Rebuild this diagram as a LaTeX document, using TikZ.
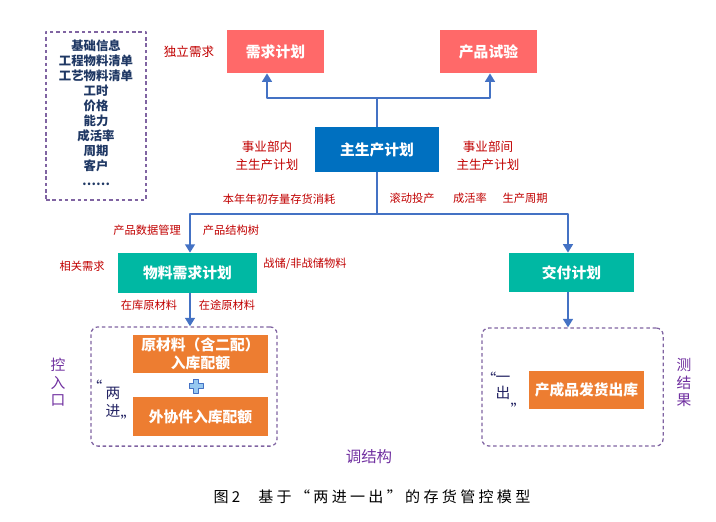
\documentclass[tikz,border=0pt]{standalone}
\usepackage{fontspec}
\setmainfont{Noto Sans CJK SC}
\usetikzlibrary{arrows.meta}
\definecolor{salmon}{RGB}{255,105,105}
\definecolor{mpsblue}{RGB}{0,112,192}
\definecolor{teal}{RGB}{0,184,163}
\definecolor{orangebox}{RGB}{237,125,49}
\definecolor{darkred}{RGB}{192,0,0}
\definecolor{navy}{RGB}{31,56,100}
\definecolor{ink}{RGB}{36,36,100}
\definecolor{zonetext}{RGB}{112,48,160}
\definecolor{zoneline}{RGB}{128,100,162}
\definecolor{arrowblue}{RGB}{68,114,196}
\definecolor{plusfill}{RGB}{150,200,240}
\begin{document}
\begin{tikzpicture}[x=0.025cm,y=-0.025cm,line join=round,>={Triangle[width=7pt,length=6pt]},
 box/.style={fill=#1,text=white,font=\fontsize{10.5}{12.8}\selectfont\bfseries,align=center,inner sep=0pt},
 lbl/.style={text=darkred,font=\fontsize{8}{11}\selectfont,align=center,inner sep=1pt},
 biglbl/.style={text=darkred,font=\fontsize{8.9}{12.8}\selectfont,align=center,inner sep=1pt},
 zone/.style={draw=zoneline,line width=0.9pt,dash pattern=on 2.5pt off 2pt,rounded corners=5pt},
 side/.style={text=zonetext,font=\fontsize{10.5}{12.4}\selectfont,align=center,inner sep=0pt},
 quote/.style={text=ink,font=\fontsize{10.5}{12.5}\selectfont,inner sep=0pt},
 link/.style={draw=arrowblue,line width=1.3pt,->}]
\useasboundingbox (0,0) rectangle (716,521);
\node[zone,rounded corners=0pt,minimum width=2.5cm,minimum height=4.2cm] (info) at (96,116) {};
\node[text=navy,font=\fontsize{8.8}{10.7}\selectfont\bfseries,align=center,inner sep=0pt] (infotxt) at (96,113)
 {基础信息\\工程物料清单\\工艺物料清单\\工时\\价格\\能力\\成活率\\周期\\客户\\……};
\node[box=salmon,minimum width=2.43cm,minimum height=1.08cm] (demand) at (275.5,51.5) {需求计划};
\node[box=salmon,minimum width=2.43cm,minimum height=1.08cm] (trial) at (488.5,51.5) {产品试验};
\node[box=mpsblue,minimum width=3.1cm,minimum height=1.13cm] (mps) at (377,149.5) {主生产计划};
\node[box=teal,minimum width=3.48cm,minimum height=1cm] (mrp) at (187.5,273) {物料需求计划};
\node[box=teal,minimum width=3.13cm,minimum height=0.98cm] (deliver) at (571.5,272.5) {交付计划};
\node[zone,minimum width=4.65cm,minimum height=2.98cm] (inzone) at (184,386.5) {};
\node[zone,minimum width=4.53cm,minimum height=2.95cm] (outzone) at (572.5,387) {};
\node[box=orangebox,minimum width=3.38cm,minimum height=0.95cm] (raw) at (200.5,354) {原材料（含二配）\\入库配额};
\node[box=orangebox,minimum width=3.38cm,minimum height=0.98cm] (outsrc) at (200.5,416.5) {外协件入库配额};
\node[box=orangebox,minimum width=2.88cm,minimum height=0.95cm] (ship) at (586.5,390) {产成品发货出库};
\node[biglbl] (indep) at (189,52) {独立需求};
\node[biglbl] (inner) at (267,156) {事业部内\\主生产计划};
\node[biglbl] (outer) at (488,156) {事业部间\\主生产计划};
\node[lbl] (stock) at (279,199) {本年年初存量存货消耗};
\node[lbl] (roll) at (412,198) {滚动投产};
\node[lbl] (yield) at (470,198) {成活率};
\node[lbl] (cycle) at (525,198) {生产周期};
\node[lbl] (pdm) at (147,230) {产品数据管理};
\node[lbl] (bomtree) at (231,230) {产品结构树};
\node[lbl] (dep) at (82,266) {相关需求};
\node[lbl] (strat) at (305,264) {战储/非战储物料};
\node[lbl] (instock) at (149,305) {在库原材料};
\node[lbl] (transit) at (227,305) {在途原材料};
\node[side] (ctrl) at (58,382.5) {控\\入\\口};
\node[side] (meas) at (684,382.5) {测\\结\\果};
\node[side,font=\fontsize{11}{13}\selectfont] (adjust) at (369,457) {调结构};
\node[quote] (inq1) at (95,386) {“};
\node[quote,align=center,font=\fontsize{10.5}{12.8}\selectfont] (intwo) at (113,402) {两\\进};
\node[quote] (inq2) at (128,421) {”};
\node[quote] (outq1) at (489,378) {“};
\node[quote,align=center,font=\fontsize{10.5}{11.6}\selectfont] (outone) at (503,388) {一\\出};
\node[quote] (outq2) at (518,409) {”};
\filldraw[draw=arrowblue,fill=plusfill,line width=0.7pt,shift={(196,386)}]
 (-2.5,-7)--(2.5,-7)--(2.5,-2.5)--(7,-2.5)--(7,2.5)--(2.5,2.5)--(2.5,7)--(-2.5,7)--(-2.5,2.5)--(-7,2.5)--(-7,-2.5)--(-2.5,-2.5)--cycle;
\coordinate (up) at (mps.north |- 0,98);
\coordinate (down) at (mps.south |- 0,214);
\draw[link] (mps.north) -- (up) -| (267,0 |- demand.south);
\draw[link] (up) -| (490,0 |- trial.south);
\draw[link] (mps.south) -- (down) -| (190,0 |- mrp.north);
\draw[link] (down) -| (568,0 |- deliver.north);
\draw[link] (190,0 |- mrp.south) -- (190,0 |- inzone.north);
\draw[link] (568,0 |- deliver.south) -- (568,0 |- outzone.north);
\node[font=\fontsize{10.7}{13}\selectfont\addfontfeatures{LetterSpace=22}] (caption) at (372,497)
 {图2\hspace{1.2em}基于“两进一出”的存货管控模型};
\end{tikzpicture}
\end{document}
